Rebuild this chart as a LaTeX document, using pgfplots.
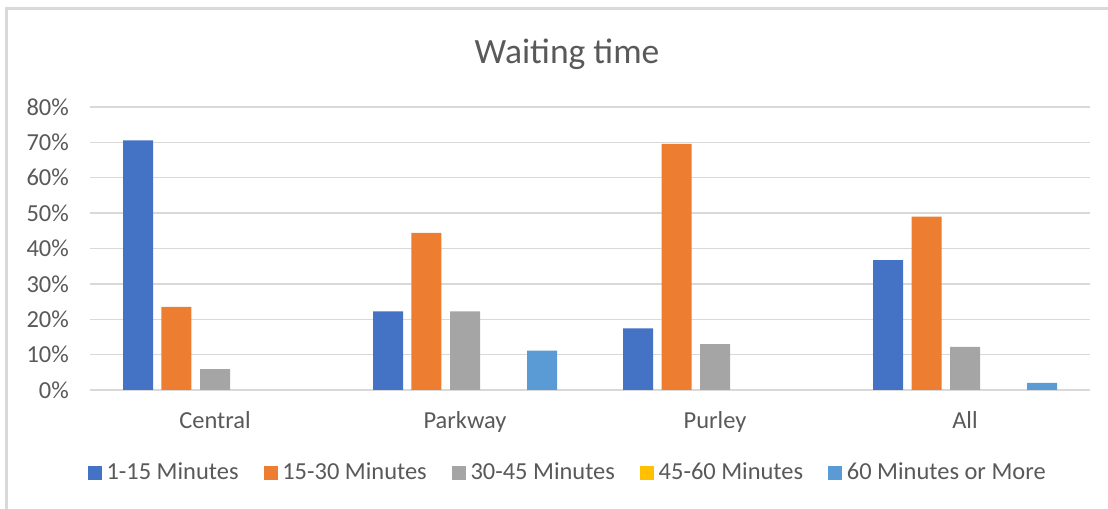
\documentclass[border=0pt]{standalone}
\usepackage{pgfplots}
\pgfplotsset{compat=1.18}
\usepackage{fontspec}
\setmainfont{Carlito}
\definecolor{c1}{HTML}{4472C4}
\definecolor{c2}{HTML}{ED7D31}
\definecolor{c3}{HTML}{A5A5A5}
\definecolor{c4}{HTML}{FFC000}
\definecolor{c5}{HTML}{5B9BD5}
\definecolor{txt}{HTML}{595959}
\definecolor{gridc}{HTML}{D9D9D9}
\begin{document}
\begin{tikzpicture}[x=0.45pt,y=0.45pt]
\begin{axis}[
  at={(0,0)}, anchor=south west,
  scale only axis, width=450pt, height=127.35pt,
  ybar, bar width=13.5pt,
  xmin=-0.5, xmax=3.5, ymin=0, ymax=0.8,
  xtick={0,1,2,3}, xticklabels={Central,Parkway,Purley,All},
  ytick={0,0.1,...,0.8},
  yticklabels={0\%,10\%,20\%,30\%,40\%,50\%,60\%,70\%,80\%},
  major tick length=0pt,
  axis lines*=left,
  x axis line style={draw=gridc, line width=0.6pt},
  y axis line style={draw=none},
  ymajorgrids, grid style={gridc, line width=0.6pt},
  ticklabel style={font=\fontsize{11}{13}\selectfont, text=txt},
  xticklabel style={yshift=-6pt},
  yticklabel style={xshift=-6pt},
  /pgf/number format/assume math mode=true,
  legend columns=5,
  legend style={at={(0.479,-0.293)}, anchor=center, draw=none,
    font=\fontsize{11}{13}\selectfont, text=txt,
    /tikz/every even column/.append style={column sep=9.3pt}},
  legend image code/.code={\fill[#1] (0pt,-3.2pt) rectangle (6.4pt,3.2pt);},
]
\addplot[fill=c1, draw=none, bar shift=-34.65pt] coordinates {(0,0.706) (1,0.222) (2,0.174) (3,0.367)};
\addlegendentry{1-15 Minutes}
\addplot[fill=c2, draw=none, bar shift=-17.33pt] coordinates {(0,0.235) (1,0.444) (2,0.696) (3,0.490)};
\addlegendentry{15-30 Minutes}
\addplot[fill=c3, draw=none, bar shift=0pt] coordinates {(0,0.059) (1,0.222) (2,0.130) (3,0.122)};
\addlegendentry{30-45 Minutes}
\addlegendimage{fill=c4, draw=none}
\addlegendentry{45-60 Minutes}
\addplot[fill=c5, draw=none, bar shift=34.65pt] coordinates {(1,0.111) (3,0.020)};
\addlegendentry{60 Minutes or More}
\end{axis}
\node[text=txt, font=\fontsize{16}{19}\selectfont] at (477,336) {Waiting time};
\pgfresetboundingbox
\path[use as bounding box] (-90,-119) rectangle (1018,390);
\draw[overlay, gridc, line width=1pt] (-83.5,-125) -- (-83.5,381.5) -- (1025,381.5);
\end{tikzpicture}
\end{document}
